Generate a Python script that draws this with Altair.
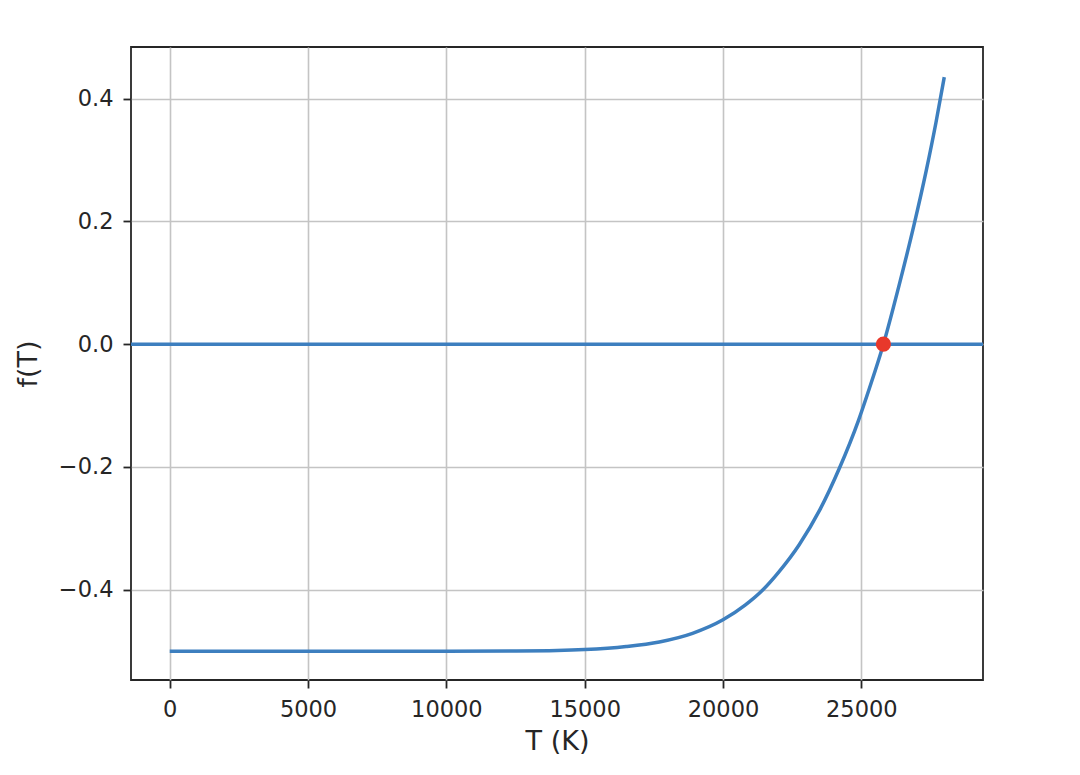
import altair as alt
import pandas

# f(T)
temps = [0, 5000, 10000, 12500, 14000, 15000, 16500, 17700, 18900, 20000,
         20800, 21400, 22000, 22750, 23500, 24200, 24900, 25300, 25800,
         26350, 26900, 27350, 27700, 28000]
f_vals = [-0.5, -0.5, -0.5, -0.4997, -0.499, -0.4975, -0.4925, -0.485, -0.471, -0.449,
          -0.425, -0.402, -0.372, -0.327, -0.270, -0.203, -0.124, -0.071, 0.0,
          0.093, 0.193, 0.283, 0.361, 0.435]

root_t = [25800]
root_f = [0.0]

x_ticks = [0, 5000, 10000, 15000, 20000, 25000]
y_ticks = [-0.4, -0.2, 0.0, 0.2, 0.4]

blue = "#3d7fbf"
red = "#e8382b"
font = "DejaVu Sans"

df = pandas.DataFrame({"T": temps, "f": f_vals})
root = pandas.DataFrame({"T": root_t, "f": root_f})

x_enc = alt.X(
    "T:Q",
    title="T (K)",
    scale=alt.Scale(domain=[-1400, 29400], nice=False, zero=False),
    axis=alt.Axis(values=x_ticks, format="d"),
)
y_enc = alt.Y(
    "f:Q",
    title="f(T)",
    scale=alt.Scale(domain=[-0.547, 0.484], nice=False, zero=False),
    axis=alt.Axis(values=y_ticks, format=".1f"),
)

curve = (
    alt.Chart(df)
    .mark_line(color=blue, strokeWidth=3.5, interpolate="monotone")
    .encode(x=x_enc, y=y_enc)
)

zero_line = (
    alt.Chart(pandas.DataFrame({"f": [0.0]}))
    .mark_rule(color=blue, strokeWidth=3.5)
    .encode(y="f:Q")
)

point = (
    alt.Chart(root)
    .mark_circle(color=red, size=230, opacity=1)
    .encode(x="T:Q", y="f:Q")
)

chart = (
    alt.layer(zero_line, curve, point)
    .properties(
        width=852,
        height=633,
        autosize=alt.AutoSizeParams(type="none"),
        padding={"left": 123, "top": 39, "right": 80, "bottom": 80},
    )
    .configure_view(stroke="#262626", strokeWidth=1.8)
    .configure_axis(
        domain=False,
        grid=True,
        gridColor="#c4c4c4",
        gridWidth=1.6,
        tickColor="#262626",
        tickSize=8,
        tickWidth=1.8,
        labelFont=font,
        labelFontSize=22.5,
        labelColor="#262626",
        labelPadding=10,
        titleFont=font,
        titleFontSize=27,
        titleFontWeight="normal",
        titleColor="#262626",
    )
    .configure_axisX(titlePadding=8)
    .configure_axisY(titlePadding=16)
)

chart.save("out.html", embed_options={"renderer": "svg", "actions": False})
